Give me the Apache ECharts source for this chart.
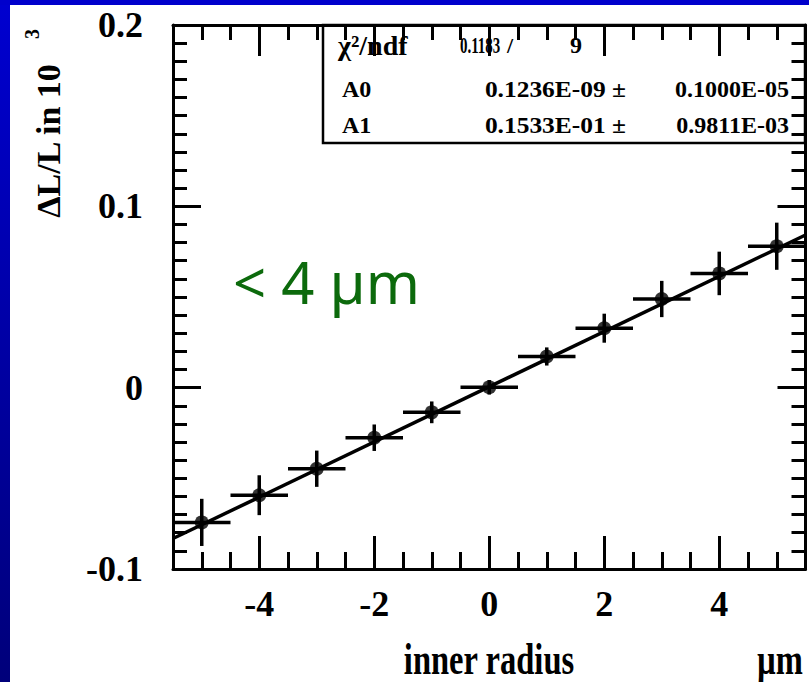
<!DOCTYPE html>
<html><head><meta charset="utf-8">
<script src="https://cdn.jsdelivr.net/npm/echarts@6.0.0/dist/echarts.min.js"></script>
<style>html,body{margin:0;padding:0;background:#fff;} #c{width:809px;height:682px;}</style>
</head><body><div id="c"></div>
<script>
// ---- data ----
const xValues = [-5, -4, -3, -2, -1, 0, 1, 2, 3, 4, 5];
const yValues = [-0.0743, -0.0593, -0.0447, -0.0276, -0.0136, 0.0002, 0.0172, 0.0328, 0.0489, 0.0630, 0.0780];
const xErrors = [0.5, 0.5, 0.5, 0.5, 0.5, 0.5, 0.5, 0.5, 0.5, 0.5, 0.5];
const yErrors = [0.013, 0.011, 0.010, 0.0073, 0.006, 0.004, 0.005, 0.008, 0.010, 0.012, 0.013];
const fitX = [-5.5, 5.5];
const fitY = [-0.0832, 0.0842];
const xMajorTicks = [-4, -2, 0, 2, 4];
const xMinorTicks = [-5, -4.5, -3.5, -3, -2.5, -1.5, -1, -0.5, 0.5, 1, 1.5, 2.5, 3, 3.5, 4.5, 5];
const yTickValues = [-0.1, 0, 0.1, 0.2];
const statNames = ['A0', 'A1'];
const statValues = ['0.1236E-09 \u00b1', '0.1533E-01 \u00b1'];
const statErrors = ['0.1000E-05', '0.9811E-03'];
const chiLabel = '\u03c7\u00b2/ndf';
const chiValue = '0.1183';
const ndfValue = '9';

const FONT = 'Liberation Serif';
const chart = echarts.init(document.getElementById('c'), null, {renderer: 'svg'});

function xAxisDef(pos, ticks, len, showLine, showLabel) {
  return {
    type: 'value', position: pos, min: -5.5, max: 5.5, gridIndex: 0,
    axisLine: {show: showLine, onZero: false, lineStyle: {color: '#000', width: 3}},
    axisTick: {show: true, inside: true, length: len, customValues: ticks, lineStyle: {color: '#000', width: 3}},
    axisLabel: {show: showLabel, customValues: xMajorTicks, margin: 17,
      fontFamily: FONT, fontWeight: 'bold', fontSize: 36, color: '#000'},
    splitLine: {show: false}
  };
}
function yAxisDef(pos, showLabel) {
  return {
    type: 'value', position: pos, min: yTickValues[0], max: yTickValues[yTickValues.length - 1], interval: 0.1, gridIndex: 0,
    axisLine: {show: true, onZero: false, lineStyle: {color: '#000', width: 3}},
    axisTick: {show: true, inside: true, length: 28, lineStyle: {color: '#000', width: 3}},
    minorTick: {show: true, splitNumber: 10, length: 14, lineStyle: {color: '#000', width: 3}},
    axisLabel: {show: showLabel, margin: 30, fontFamily: FONT, fontWeight: 'bold', fontSize: 36, color: '#000'},
    splitLine: {show: false}, minorSplitLine: {show: false}
  };
}

function txt(x, y, s, size, align, extra) {
  return Object.assign({type: 'text', x: x, y: y,
    style: {text: s, font: 'bold ' + size + 'px "' + FONT + '"', fill: '#000', align: align, verticalAlign: 'middle'}}, extra || {});
}

const statTexts = [];
statNames.forEach((n, i) => {
  const y = 89 + i * 36;
  statTexts.push(txt(342, y, n, 24, 'left'));
  statTexts.push(txt(626, y, statValues[i], 24, 'right', {scaleX: 1.06}));
  statTexts.push(txt(789, y, statErrors[i], 24, 'right'));
});

const option = {
  backgroundColor: '#fff',
  animation: false,
  grid: {left: 173, right: 3.5, top: 25, bottom: 113, containLabel: false},
  xAxis: [
    xAxisDef('bottom', xMajorTicks, 33, true, true),
    xAxisDef('bottom', xMinorTicks, 17, false, false),
    xAxisDef('top', xMajorTicks, 31, true, false),
    xAxisDef('top', xMinorTicks, 15, false, false)
  ],
  yAxis: [yAxisDef('left', true), yAxisDef('right', false)],
  graphic: [
    {type: 'rect', shape: {x: 0, y: 0, width: 10, height: 682}, style: {fill: new echarts.graphic.LinearGradient(0, 0, 0, 1, [{offset: 0, color: '#0000d0'}, {offset: 1, color: '#00007a'}])}},
    {type: 'rect', shape: {x: 0, y: 0, width: 809, height: 5}, style: {fill: '#0000cc'}},
    {type: 'rect', shape: {x: 323, y: 25, width: 482, height: 118}, style: {fill: 'none', stroke: '#000', lineWidth: 2.5}},
    txt(338, 45, chiLabel, 28, 'left'),
    txt(460, 45, chiValue, 23, 'left', {scaleX: 0.65}),
    txt(507, 45, '/', 22, 'left'),
    txt(570, 45, ndfValue, 24, 'left'),
    ...statTexts,
    {type: 'text', x: 233, y: 281, style: {text: '< 4 \u00b5m', font: '58px "Noto Sans"', fill: '#0c6a0c', align: 'left', verticalAlign: 'middle'}},
    txt(489, 659, 'inner radius', 44, 'center', {scaleX: 0.74}),
    txt(780, 659, '\u00b5m', 44, 'center', {scaleX: 0.74}),
    txt(48, 141, '\u0394L/L in 10', 34, 'center', {rotation: Math.PI / 2}),
    txt(32, 34, '3', 20, 'center', {rotation: Math.PI / 2})
  ],
  series: [
    {type: 'line', xAxisIndex: 0, yAxisIndex: 0, data: fitX.map((x, i) => [x, fitY[i]]),
      symbol: 'none', lineStyle: {color: '#000', width: 3.5}, z: 2},
    {type: 'custom', xAxisIndex: 0, yAxisIndex: 0,
      data: xValues.map((x, i) => [x, yValues[i], xErrors[i], yErrors[i]]),
      renderItem: function (params, api) {
        const x = api.value(0), y = api.value(1), ex = api.value(2), ey = api.value(3);
        const l = api.coord([x - ex, y]), r = api.coord([x + ex, y]);
        const b = api.coord([x, y - ey]), t = api.coord([x, y + ey]);
        const st = {stroke: '#000', lineWidth: 3.5};
        return {type: 'group', children: [
          {type: 'line', shape: {x1: l[0], y1: l[1], x2: r[0], y2: r[1]}, style: st},
          {type: 'line', shape: {x1: b[0], y1: b[1], x2: t[0], y2: t[1]}, style: st}
        ]};
      }, z: 3},
    {type: 'scatter', xAxisIndex: 0, yAxisIndex: 0, data: xValues.map((x, i) => [x, yValues[i]]),
      symbol: 'circle', symbolSize: 14, itemStyle: {color: '#000'}, z: 4}
  ]
};
chart.setOption(option);
</script>
</body></html>
